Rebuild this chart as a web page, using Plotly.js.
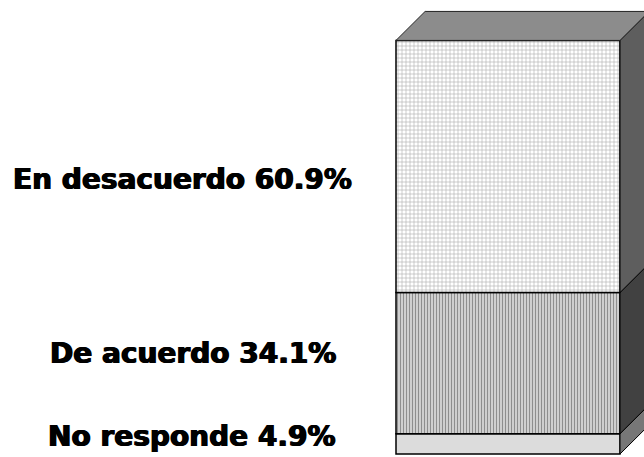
<!DOCTYPE html>
<html>
<head>
<meta charset="utf-8">
<script src="https://cdn.plot.ly/plotly-3.0.1.min.js"></script>
<style>html,body{margin:0;padding:0;background:#fff;}#chart{width:644px;height:457px;}</style>
</head>
<body>
<div id="chart"></div>
<script>
// Data (bottom to top)
const categories = ["No responde", "De acuerdo", "En desacuerdo"];
const values = [4.9, 34.1, 60.9];
const labels = ["No responde 4.9%", "De acuerdo 34.1%", "En desacuerdo 60.9%"];

// Styles
const frontStyles = [
  {color: "#dcdcdc", pattern: {shape: ""}},
  {color: "#c0c0c0", pattern: {shape: "|", bgcolor: "#d6d6d6", fgcolor: "#8e8e8e", size: 3, solidity: 0.4}},
  {color: "#eeeeee", pattern: {shape: "+", bgcolor: "#ffffff", fgcolor: "#b0b0b0", size: 4, solidity: 0.3}}
];
const sideColors = ["#777777", "#414141", "#5e5e5e"];
const topColor = "#8c8c8c";
const dx = 0.13, dy = 7.0;     // depth offset in axis units
const halfW = 0.5;

const traces = [];
let base = 0;
const bases = [];
values.forEach((v, i) => {
  bases.push(base);
  traces.push({
    type: "bar", x: [0], y: [v], base: [base], width: [2 * halfW],
    name: categories[i],
    marker: Object.assign({line: {color: "#000", width: 1.5}}, frontStyles[i]),
    hoverinfo: "skip"
  });
  base += v;
});
// right side faces
values.forEach((v, i) => {
  const b = bases[i], t = b + v;
  traces.push({
    type: "scatter", mode: "lines", fill: "toself",
    x: [halfW, halfW + dx, halfW + dx, halfW, halfW],
    y: [b, b + dy, t + dy, t, b],
    fillcolor: sideColors[i], line: {color: "#000", width: 1},
    hoverinfo: "skip", showlegend: false
  });
});
// top face
const total = base;
traces.push({
  type: "scatter", mode: "lines", fill: "toself",
  x: [-halfW, -halfW + dx, halfW + dx, halfW, -halfW],
  y: [total, total + dy, total + dy, total, total],
  fillcolor: topColor, line: {color: "#222", width: 1},
  hoverinfo: "skip", showlegend: false
});

const labelX = [192 / 644, 193 / 644, 182 / 644];
const labelShift = [7, 10, -13];
const annotations = values.map((v, i) => ({
  xref: "paper", yref: "y", x: labelX[i], y: bases[i] + v / 2,
  yshift: labelShift[i], xanchor: "center", yanchor: "middle",
  text: labels[i], showarrow: false,
  font: {family: "'DejaVu Sans', sans-serif", size: 28, weight: "bold", color: "#000",
         shadow: "0.7px 0 0 #000, -0.7px 0 0 #000"}
}));

const layout = {
  width: 644, height: 457,
  margin: {l: 0, r: 0, t: 0, b: 0},
  paper_bgcolor: "#fff", plot_bgcolor: "#fff",
  barmode: "overlay", showlegend: false,
  xaxis: {range: [-0.5 - 396 / 224, 0.5 + 24 / 224], visible: false, fixedrange: true},
  yaxis: {range: [-3 / 4.14, 100 + 40 / 4.14], visible: false, fixedrange: true},
  annotations: annotations
};
Plotly.newPlot("chart", traces, layout, {staticPlot: true, displayModeBar: false});
</script>
</body>
</html>
